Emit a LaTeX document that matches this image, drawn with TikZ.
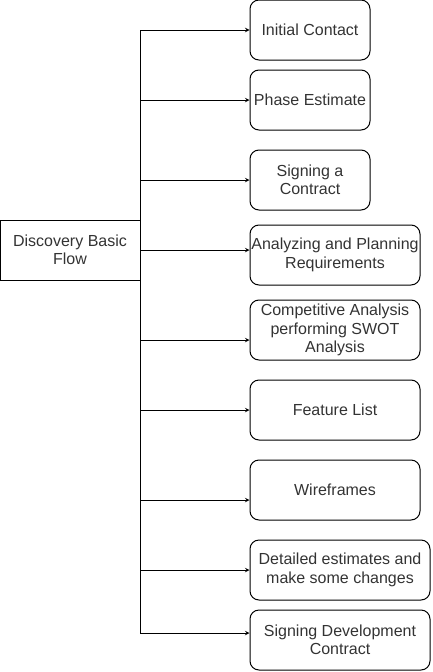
\documentclass[tikz,border=0pt]{standalone}
\usepackage{fontspec}
\setmainfont{Liberation Sans}
\usetikzlibrary{positioning,shapes,arrows}
\definecolor{textgray}{RGB}{51,51,51}

\begin{document}
\begin{tikzpicture}[x=1pt, y=-1pt,
    stepbox/.style={rectangle, draw=black, rounded corners=9pt, line width=1pt, minimum height=60pt, align=center, text=textgray, font=\fontsize{16}{18.4}\selectfont, inner sep=0pt},
    rootbox/.style={rectangle, draw=black, line width=1pt, minimum width=140pt, minimum height=60pt, align=center, text=textgray, font=\fontsize{16}{18.4}\selectfont},
    link/.style={-stealth, line width=1pt}
]
\useasboundingbox (0,0) rectangle (432,672);

% Root
\node[rootbox] (flow) at (70,250) {Discovery Basic\\Flow};

% Steps
\node[stepbox, minimum width=120pt] (contact) at (310,30) {Initial Contact};
\node[stepbox, minimum width=120pt] (estimate) at (310,100) {Phase Estimate};
\node[stepbox, minimum width=120pt] (contract) at (310,180) {Signing a\\Contract};
\node[stepbox, minimum width=170pt] (planning) at (335,255) {Analyzing and Planning\\Requirements};
\node[stepbox, minimum width=170pt] (swot) at (335,330) {Competitive Analysis\\performing SWOT\\Analysis};
\node[stepbox, minimum width=170pt] (features) at (335,410) {Feature List};
\node[stepbox, minimum width=170pt] (wires) at (335,490) {Wireframes};
\node[stepbox, minimum width=180pt] (detailed) at (340,570) {Detailed estimates and\\make some changes};
\node[stepbox, minimum width=180pt] (devcontract) at (340,640) {Signing Development\\Contract};

% Trunk points
\coordinate (t1) at (140,30);
\coordinate (t2) at (140,100);
\coordinate (t3) at (140,180);
\coordinate (t4) at (140,250);
\coordinate (t5) at (140,340);
\coordinate (t6) at (140,410);
\coordinate (t7) at (140,500);
\coordinate (t8) at (140,570);
\coordinate (t9) at (140,633);

% Trunk
\draw[line width=1pt] (t1) -- (t9);

% Branches
\draw[link] (t1) -- (t1 -| contact.west);
\draw[link] (t2) -- (t2 -| estimate.west);
\draw[link] (t3) -- (t3 -| contract.west);
\draw[link] (t4) -- (t4 -| planning.west);
\draw[link] (t5) -- (t5 -| swot.west);
\draw[link] (t6) -- (t6 -| features.west);
\draw[link] (t7) -- (t7 -| wires.west);
\draw[link] (t8) -- (t8 -| detailed.west);
\draw[link] (t9) -- (t9 -| devcontract.west);

\end{tikzpicture}
\end{document}
